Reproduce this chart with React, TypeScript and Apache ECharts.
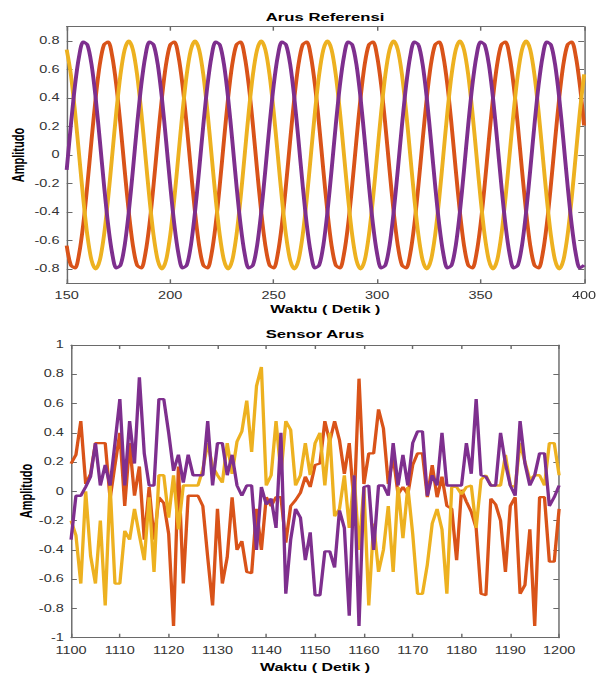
import React, { useEffect, useRef } from "react";
import * as echarts from "echarts";

// ---------- Data: "Arus Referensi" ----------
const refTime = [
  150, 152, 154, 156, 158, 160, 162, 164, 166, 168, 170, 172, 174, 176, 178, 180,
  182, 184, 186, 188, 190, 192, 194, 196, 198, 200, 202, 204, 206, 208, 210, 212,
  214, 216, 218, 220, 222, 224, 226, 228, 230, 232, 234, 236, 238, 240, 242, 244,
  246, 248, 250, 252, 254, 256, 258, 260, 262, 264, 266, 268, 270, 272, 274, 276,
  278, 280, 282, 284, 286, 288, 290, 292, 294, 296, 298, 300, 302, 304, 306, 308,
  310, 312, 314, 316, 318, 320, 322, 324, 326, 328, 330, 332, 334, 336, 338, 340,
  342, 344, 346, 348, 350, 352, 354, 356, 358, 360, 362, 364, 366, 368, 370, 372,
  374, 376, 378, 380, 382, 384, 386, 388, 390, 392, 394, 396, 398, 400,
];

const refOrange = [
  -0.635, -0.773, -0.793, -0.693, -0.487, -0.207, 0.104, 0.4, 0.635, 0.773, 0.793, 0.693, 0.487, 0.207, -0.104, -0.4,
  -0.635, -0.773, -0.793, -0.693, -0.487, -0.207, 0.104, 0.4, 0.635, 0.773, 0.793, 0.693, 0.487, 0.207, -0.104, -0.4,
  -0.635, -0.773, -0.793, -0.693, -0.487, -0.207, 0.104, 0.4, 0.635, 0.773, 0.793, 0.693, 0.487, 0.207, -0.104, -0.4,
  -0.635, -0.773, -0.793, -0.693, -0.487, -0.207, 0.104, 0.4, 0.635, 0.773, 0.793, 0.693, 0.487, 0.207, -0.104, -0.4,
  -0.635, -0.773, -0.793, -0.693, -0.487, -0.207, 0.104, 0.4, 0.635, 0.773, 0.793, 0.693, 0.487, 0.207, -0.104, -0.4,
  -0.635, -0.773, -0.793, -0.693, -0.487, -0.207, 0.104, 0.4, 0.635, 0.773, 0.793, 0.693, 0.487, 0.207, -0.104, -0.4,
  -0.635, -0.773, -0.793, -0.693, -0.487, -0.207, 0.104, 0.4, 0.635, 0.773, 0.793, 0.693, 0.487, 0.207, -0.104, -0.4,
  -0.635, -0.773, -0.793, -0.693, -0.487, -0.207, 0.104, 0.4, 0.635, 0.773, 0.793, 0.693, 0.487, 0.207,
];

const refYellow = [
  0.739, 0.566, 0.306, 0, -0.306, -0.566, -0.739, -0.8, -0.739, -0.566, -0.306, 0, 0.306, 0.566, 0.739, 0.8,
  0.739, 0.566, 0.306, 0, -0.306, -0.566, -0.739, -0.8, -0.739, -0.566, -0.306, 0, 0.306, 0.566, 0.739, 0.8,
  0.739, 0.566, 0.306, 0, -0.306, -0.566, -0.739, -0.8, -0.739, -0.566, -0.306, 0, 0.306, 0.566, 0.739, 0.8,
  0.739, 0.566, 0.306, 0, -0.306, -0.566, -0.739, -0.8, -0.739, -0.566, -0.306, 0, 0.306, 0.566, 0.739, 0.8,
  0.739, 0.566, 0.306, 0, -0.306, -0.566, -0.739, -0.8, -0.739, -0.566, -0.306, 0, 0.306, 0.566, 0.739, 0.8,
  0.739, 0.566, 0.306, 0, -0.306, -0.566, -0.739, -0.8, -0.739, -0.566, -0.306, 0, 0.306, 0.566, 0.739, 0.8,
  0.739, 0.566, 0.306, 0, -0.306, -0.566, -0.739, -0.8, -0.739, -0.566, -0.306, 0, 0.306, 0.566, 0.739, 0.8,
  0.739, 0.566, 0.306, 0, -0.306, -0.566, -0.739, -0.8, -0.739, -0.566, -0.306, 0, 0.306, 0.566,
];

const refPurple = [
  -0.104, 0.207, 0.487, 0.693, 0.793, 0.773, 0.635, 0.4, 0.104, -0.207, -0.487, -0.693, -0.793, -0.773, -0.635, -0.4,
  -0.104, 0.207, 0.487, 0.693, 0.793, 0.773, 0.635, 0.4, 0.104, -0.207, -0.487, -0.693, -0.793, -0.773, -0.635, -0.4,
  -0.104, 0.207, 0.487, 0.693, 0.793, 0.773, 0.635, 0.4, 0.104, -0.207, -0.487, -0.693, -0.793, -0.773, -0.635, -0.4,
  -0.104, 0.207, 0.487, 0.693, 0.793, 0.773, 0.635, 0.4, 0.104, -0.207, -0.487, -0.693, -0.793, -0.773, -0.635, -0.4,
  -0.104, 0.207, 0.487, 0.693, 0.793, 0.773, 0.635, 0.4, 0.104, -0.207, -0.487, -0.693, -0.793, -0.773, -0.635, -0.4,
  -0.104, 0.207, 0.487, 0.693, 0.793, 0.773, 0.635, 0.4, 0.104, -0.207, -0.487, -0.693, -0.793, -0.773, -0.635, -0.4,
  -0.104, 0.207, 0.487, 0.693, 0.793, 0.773, 0.635, 0.4, 0.104, -0.207, -0.487, -0.693, -0.793, -0.773, -0.635, -0.4,
  -0.104, 0.207, 0.487, 0.693, 0.793, 0.773, 0.635, 0.4, 0.104, -0.207, -0.487, -0.693, -0.793, -0.773,
];

// ---------- Data: "Sensor Arus" ----------
const sensorTime = [
  1100, 1101, 1102, 1103, 1104, 1105, 1106, 1107, 1108, 1109,
  1110, 1111, 1112, 1113, 1114, 1115, 1116, 1117, 1118, 1119,
  1120, 1121, 1122, 1123, 1124, 1125, 1126, 1127, 1128, 1129,
  1130, 1131, 1132, 1133, 1134, 1135, 1136, 1137, 1138, 1139,
  1140, 1141, 1142, 1143, 1144, 1145, 1146, 1147, 1148, 1149,
  1150, 1151, 1152, 1153, 1154, 1155, 1156, 1157, 1158, 1159,
  1160, 1161, 1162, 1163, 1164, 1165, 1166, 1167, 1168, 1169,
  1170, 1171, 1172, 1173, 1174, 1175, 1176, 1177, 1178, 1179,
  1180, 1181, 1182, 1183, 1184, 1185, 1186, 1187, 1188, 1189,
  1190, 1191, 1192, 1193, 1194, 1195, 1196, 1197, 1198, 1199,
  1200,
];

const sensorOrange = [
  0.19, 0.25, 0.48, 0.05, 0.12, 0.33, 0.33, 0.33, -0.05, 0.18,
  0.4, -0.1, 0.33, -0.03, 0.17, -0.33, 0.03, -0.33, -0.04, -0.08,
  -0.29, -0.92, 0.17, -0.63, -0.03, -0.03, -0.03, -0.1, -0.45, -0.78,
  -0.12, -0.63, -0.45, -0.04, -0.4, -0.34, -0.55, -0.56, -0.12, -0.4,
  -0.04, -0.1, -0.04, -0.04, -0.35, -0.1, -0.06, -0.01, 0.1, 0.03,
  0.18, 0.19, 0.48, 0.34, 0.48, 0.35, 0.12, 0.33, -0.1, 0.77,
  0.05, 0.26, 0.26, 0.56, 0.43, 0.05, 0.24, -0.02, 0.03, -0.02,
  0.18, 0.26, 0.26, -0.04, 0.18, -0.04, 0.1, -0.1, -0.12, -0.47,
  0.01, -0.07, -0.14, -0.25, -0.7, -0.71, -0.05, -0.09, -0.2, -0.55,
  -0.1, -0.04, -0.7, -0.64, -0.26, -0.92, -0.04, -0.04, -0.48, -0.48,
  -0.12,
];

const sensorYellow = [
  -0.2, -0.3, -0.63, 0.0, -0.44, -0.63, -0.2, -0.78, 0.04, -0.63,
  -0.63, -0.27, -0.33, -0.12, -0.3, -0.47, -0.04, -0.55, 0.11, 0.11,
  -0.18, 0.11, -0.26, 0.04, 0.04, 0.04, 0.04, 0.15, 0.33, 0.17,
  0.11, 0.06, 0.33, 0.12, 0.34, 0.41, 0.62, 0.27, 0.72, 0.85,
  0.04, 0.11, 0.48, 0.12, 0.48, 0.42, 0.04, 0.11, 0.33, 0.11,
  0.33, 0.4, 0.04, 0.4, -0.17, -0.12, 0.11, -0.25, 0.11, -0.4,
  0.03, -0.78, -0.22, -0.55, -0.4, -0.1, -0.55, 0.03, -0.32, 0.03,
  -0.29, -0.7, -0.7, -0.5, -0.22, -0.12, -0.26, -0.7, 0.03, 0.03,
  -0.02, 0.03, 0.04, -0.25, 0.08, 0.11, 0.04, 0.04, 0.04, 0.25,
  0.04, 0.03, 0.33, 0.2, 0.08, 0.11, 0.11, 0.04, 0.33, 0.33,
  0.11,
];

const sensorPurple = [
  -0.33, -0.03, -0.03, 0.03, 0.1, 0.33, 0.04, 0.18, 0.04, 0.33,
  0.63, 0.04, 0.48, 0.19, 0.78, 0.26, 0.04, 0.04, 0.63, 0.63,
  0.4, 0.14, 0.25, 0.06, 0.25, 0.11, 0.11, 0.11, 0.48, 0.04,
  0.33, 0.33, 0.11, 0.25, 0.04, -0.03, 0.04, 0.04, -0.4, 0.03,
  -0.09, -0.05, -0.25, 0.4, -0.7, -0.33, -0.12, -0.18, -0.47, -0.28,
  -0.71, -0.71, -0.41, -0.41, -0.52, -0.13, -0.25, -0.85, 0.11, -0.92,
  0.03, 0.04, -0.4, 0.04, 0.04, -0.03, 0.33, 0.04, 0.25, 0.04,
  0.33, 0.41, 0.41, -0.03, 0.11, 0.04, 0.4, 0.04, 0.04, 0.04,
  0.04, 0.33, 0.12, 0.63, 0.11, 0.1, 0.04, 0.04, 0.4, 0.19,
  0.04, -0.03, 0.48, 0.19, 0.04, 0.11, 0.26, 0.26, -0.1, -0.04,
  0.04,
];

const refYTicks = [-0.8, -0.6, -0.4, -0.2, 0, 0.2, 0.4, 0.6, 0.8];

const COLORS = { orange: "#D95319", yellow: "#EDB120", purple: "#7E2F8E" };

// The reference picture is horizontally stretched; reproduce with a CSS scaleX.
const STRETCH = 1.45;
const W = 597;
const H = 673;
const WI = W / STRETCH;
const FONT = "Liberation Sans, Arial, Helvetica, sans-serif";
const AXIS_COLOR = "#6a6a6a";
const LABEL_COLOR = "#333";

const zip = (xs: number[], ys: number[]) => xs.map((x, i) => [x, ys[i]]);
const plain = (v: number) => String(+(+v).toFixed(1));

function baseX(grid: number, min: number, max: number, interval: number, top: boolean, extra: any = {}) {
  return {
    type: "value",
    gridIndex: grid,
    min,
    max,
    interval,
    position: top ? "top" : "bottom",
    axisLine: { show: true, onZero: false, lineStyle: { color: AXIS_COLOR, width: 1 } },
    axisTick: { show: true, inside: true, length: 4, lineStyle: { color: AXIS_COLOR } },
    axisLabel: top
      ? { show: false }
      : { show: true, color: LABEL_COLOR, fontSize: 10, fontFamily: FONT, margin: 7, formatter: (v: number) => String(v) },
    splitLine: { show: false },
    ...extra,
  };
}

function baseY(grid: number, right: boolean, extra: any = {}) {
  return {
    type: "value",
    gridIndex: grid,
    position: right ? "right" : "left",
    axisLine: { show: true, onZero: false, lineStyle: { color: AXIS_COLOR, width: 1 } },
    axisTick: { show: true, inside: true, length: 4, lineStyle: { color: AXIS_COLOR } },
    axisLabel: right
      ? { show: false }
      : { show: true, color: LABEL_COLOR, fontSize: 10, fontFamily: FONT, margin: 5, formatter: plain },
    splitLine: { show: false },
    ...extra,
  };
}

const nameStyle = { color: "#000", fontWeight: "bold", fontSize: 11, fontFamily: FONT };
const textStyle = (text: string, size: number) => ({
  text,
  align: "center",
  verticalAlign: "middle",
  fontSize: size,
  fontWeight: "bold",
  fontFamily: FONT,
  fill: "#000",
});

export default function App() {
  const ref = useRef<HTMLDivElement>(null);

  useEffect(() => {
    if (!ref.current) return;
    const chart = echarts.init(ref.current, null, { renderer: "svg", width: WI, height: H });

    const lineSeries = (name: string, x: number, y: number, xs: number[], ys: number[], color: string, w: number, smooth: number | boolean) => ({
      type: "line",
      name,
      xAxisIndex: x,
      yAxisIndex: y,
      data: zip(xs, ys),
      showSymbol: false,
      symbol: "none",
      smooth,
      lineStyle: { color, width: w },
      itemStyle: { color },
      clip: true,
    });

    const yTop = (right: boolean) =>
      baseY(0, right, {
        min: -0.9,
        max: 0.9,
        axisTick: { show: true, inside: true, length: 4, lineStyle: { color: AXIS_COLOR }, customValues: refYTicks },
        axisLabel: right
          ? { show: false }
          : {
              show: true,
              color: LABEL_COLOR,
              fontSize: 10,
              fontFamily: FONT,
              margin: 5,
              customValues: refYTicks,
              formatter: plain,
            },
      });

    chart.setOption({
      animation: false,
      backgroundColor: "#fff",
      grid: [
        { left: 46, right: WI - 46 - 356.8, top: 26.7, height: 256.6, containLabel: false, outerBoundsMode: "none" },
        { left: 49, right: WI - 49 - 336.6, top: 345, height: 292.7, containLabel: false, outerBoundsMode: "none" },
      ],
      graphic: [
        { type: "text", x: 224.2, y: 16.5, style: textStyle("Arus Referensi", 11.5) },
        { type: "text", x: 217.2, y: 334, style: textStyle("Sensor Arus", 11.5) },
        { type: "text", x: 12.8, y: 155, rotation: Math.PI / 2, style: textStyle("Amplitudo", 11) },
        { type: "text", x: 18.6, y: 491, rotation: Math.PI / 2, style: textStyle("Amplitudo", 11) },
      ],
      xAxis: [
        baseX(0, 150, 400, 50, false, { name: "Waktu ( Detik )", nameLocation: "middle", nameGap: 21, nameTextStyle: nameStyle }),
        baseX(0, 150, 400, 50, true),
        baseX(1, 1100, 1200, 10, false, {
          name: "Waktu ( Detik )",
          nameLocation: "middle",
          nameGap: 24,
          nameTextStyle: nameStyle,
          axisLabel: { show: true, color: LABEL_COLOR, fontSize: 10, fontFamily: FONT, margin: 8, formatter: (v: number) => String(v) },
        }),
        baseX(1, 1100, 1200, 10, true),
      ],
      yAxis: [
        yTop(false),
        yTop(true),
        baseY(1, false, { min: -1, max: 1, interval: 0.2 }),
        baseY(1, true, { min: -1, max: 1, interval: 0.2 }),
      ],
      series: [
        lineSeries("Ref Orange", 0, 0, refTime, refOrange, COLORS.orange, 2.7, 0.3),
        lineSeries("Ref Yellow", 0, 0, refTime, refYellow, COLORS.yellow, 2.7, 0.3),
        lineSeries("Ref Purple", 0, 0, refTime, refPurple, COLORS.purple, 2.7, 0.3),
        lineSeries("Sensor Orange", 2, 2, sensorTime, sensorOrange, COLORS.orange, 2.3, false),
        lineSeries("Sensor Yellow", 2, 2, sensorTime, sensorYellow, COLORS.yellow, 2.3, false),
        lineSeries("Sensor Purple", 2, 2, sensorTime, sensorPurple, COLORS.purple, 2.3, false),
      ],
    });

    return () => chart.dispose();
  }, []);

  return (
    <div style={{ position: "fixed", left: 0, top: 0, width: W, height: H, overflow: "hidden", background: "#fff" }}>
      <div
        ref={ref}
        style={{ width: WI, height: H, transform: `scaleX(${STRETCH})`, transformOrigin: "0 0" }}
      />
    </div>
  );
}
